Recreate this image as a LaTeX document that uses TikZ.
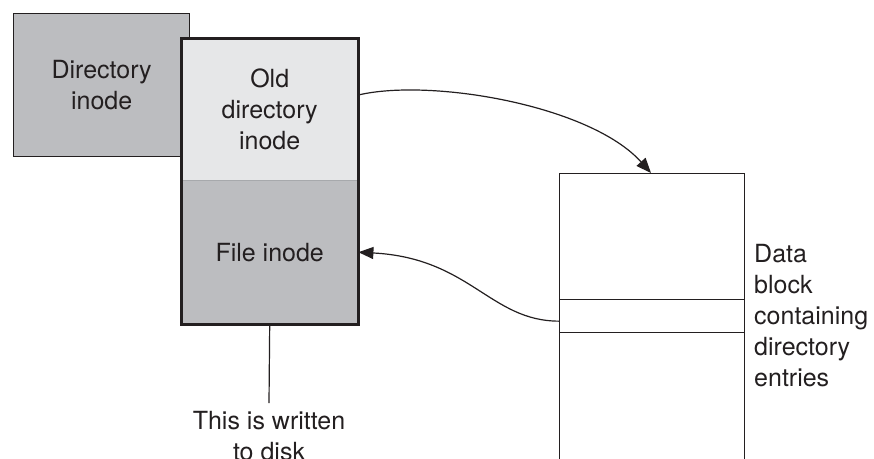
\documentclass[tikz,border=0pt]{standalone}
\usepackage{fontspec}
\setmainfont{TeX Gyre Heros}
\usetikzlibrary{arrows.meta}
\definecolor{ink}{HTML}{231F20}
\definecolor{darkfill}{HTML}{BCBDC0}
\definecolor{lightfill}{HTML}{E6E7E8}
\definecolor{sepline}{HTML}{A7A9AC}
\tikzset{
  txt/.style={font=\fontsize{25}{31}\selectfont, text=ink, align=center},
  box/.style={inner sep=0pt, anchor=north west, txt},
  conn/.style={draw=ink, line width=1.2pt, -{Triangle[length=15pt,width=12pt]}},
}
\begin{document}
\begin{tikzpicture}[x=1pt,y=-1pt]
\useasboundingbox (0,0) rectangle (874,458);
\clip (0,0) rectangle (874,458);
% directory inode
\node[box, draw=ink, line width=1.3pt, fill=darkfill, minimum width=176pt, minimum height=143pt] (dir) at (13,13) {Directory\\inode};
% old directory inode + file inode
\node[box, fill=lightfill, minimum width=177pt, minimum height=142pt] (old) at (181,38) {Old\\directory\\inode};
\node[box, fill=darkfill, minimum width=177pt, minimum height=144pt] (file) at (181,180) {File inode};
\draw[sepline, line width=0.8pt] (old.south west) -- (old.south east);
\draw[ink, line width=3pt] (old.north west) rectangle (file.south east);
% data block
\node[box, draw=ink, line width=1.3pt, minimum width=185pt, minimum height=320pt] (data) at (559,173) {};
\node[box, draw=ink, line width=1.3pt, minimum width=185pt, minimum height=33pt] (entry) at (559,299) {};
\node[txt, align=left, anchor=west, inner sep=0pt] (label) at (754,316) {Data\\block\\containing\\directory\\entries};
% note
\node[txt, inner sep=0pt] (note) at (269,436) {This is written\\to disk};
\coordinate (noteTop) at (269,403);
\draw[ink, line width=1.2pt] (file.south) -- (noteTop);
% connectors
\coordinate (tipA) at (651,173);
\draw[conn] ([yshift=-57pt]old.north east) .. controls (430,78) and (590,105) .. (tipA);
\draw[conn] (entry.west) ++(0,5) .. controls (490,321) and (470,258) .. (file.east);
\end{tikzpicture}
\end{document}
